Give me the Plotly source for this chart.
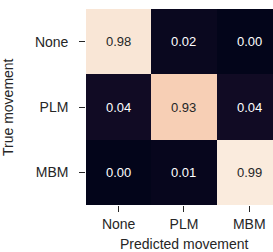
import plotly.graph_objects as go

true_labels = ["None", "PLM", "MBM"]
pred_labels = ["None", "PLM", "MBM"]
values = [
    [0.98, 0.02, 0.00],
    [0.04, 0.93, 0.04],
    [0.00, 0.01, 0.99],
]
x_title = "Predicted movement"
y_title = "True movement"

rocket = [
    [0.0, "#03051a"],
    [0.143, "#35193e"],
    [0.286, "#701f57"],
    [0.429, "#ad1759"],
    [0.571, "#e13342"],
    [0.714, "#f37651"],
    [0.857, "#f6b48f"],
    [0.94, "#f7cfb5"],
    [1.0, "#faebdd"],
]

flat = [v for row in values for v in row]
zmin, zmax = min(flat), max(flat)

FONT = "Liberation Sans, Arial, Helvetica, sans-serif"
TXT = "#262626"

W, H = 273, 252
L, R, T, B = 86, 0, 9, 47
XR = [-0.5, 2.364]
YR = [2.5, -0.5]
TICKLEN = 6

fig = go.Figure(
    go.Heatmap(
        z=values,
        x=list(range(len(pred_labels))),
        y=list(range(len(true_labels))),
        colorscale=rocket,
        zmin=zmin,
        zmax=zmax,
        showscale=False,
        hoverinfo="skip",
    )
)

# tick marks (drawn as markers just outside the plot edges)
x_per_px = (XR[1] - XR[0]) / (W - L - R)
y_per_px = (YR[0] - YR[1]) / (H - T - B)
fig.add_trace(go.Scatter(
    x=[XR[0] - x_per_px * TICKLEN / 2] * len(true_labels),
    y=list(range(len(true_labels))),
    mode="markers", cliponaxis=False, hoverinfo="skip", showlegend=False,
    marker=dict(symbol="line-ew", size=TICKLEN, line=dict(width=1.3, color=TXT)),
))
fig.add_trace(go.Scatter(
    x=list(range(len(pred_labels))),
    y=[YR[0] + y_per_px * TICKLEN / 2] * len(pred_labels),
    mode="markers", cliponaxis=False, hoverinfo="skip", showlegend=False,
    marker=dict(symbol="line-ns", size=TICKLEN, line=dict(width=1.3, color=TXT)),
))

annotations = []
for i, t in enumerate(true_labels):
    for j, p in enumerate(pred_labels):
        v = values[i][j]
        norm = (v - zmin) / (zmax - zmin)
        annotations.append(
            dict(
                x=j, y=i, text=f"{v:.2f}", showarrow=False,
                font=dict(family=FONT, size=13,
                          color=TXT if norm > 0.6 else "#ffffff"),
            )
        )

annotations.append(dict(
    xref="paper", yref="paper", x=(184 - L) / (W - L - R), y=0,
    yshift=-(244 - (H - B)), text=x_title, showarrow=False,
    xanchor="center", yanchor="middle",
    font=dict(family=FONT, size=14, color=TXT),
))
annotations.append(dict(
    xref="paper", yref="paper", x=0, y=0.5, xshift=-(L - 8),
    text=y_title, showarrow=False, textangle=-90,
    xanchor="center", yanchor="middle",
    font=dict(family=FONT, size=14, color=TXT),
))

fig.update_layout(
    width=W,
    height=H,
    margin=dict(l=L, r=R, t=T, b=B),
    paper_bgcolor="white",
    plot_bgcolor="white",
    font=dict(family=FONT, size=14, color=TXT),
    annotations=annotations,
    showlegend=False,
    xaxis=dict(
        range=XR,
        tickmode="array",
        tickvals=list(range(len(pred_labels))),
        ticktext=pred_labels,
        ticks="outside", ticklen=TICKLEN, tickwidth=1.2, tickcolor=TXT,
        tickfont=dict(size=14),
        showgrid=False, zeroline=False, showline=False,
        automargin=False,
    ),
    yaxis=dict(
        range=YR,
        tickmode="array",
        tickvals=list(range(len(true_labels))),
        ticktext=[t + "\u00a0\u00a0" for t in true_labels],
        ticks="outside", ticklen=TICKLEN, tickwidth=1.2, tickcolor=TXT,
        tickfont=dict(size=14),
        showgrid=False, zeroline=False, showline=False,
        automargin=False,
    ),
)

fig.write_html(
    "out.html",
    config={"displayModeBar": False},
    post_script="document.body.style.margin='0';",
)
